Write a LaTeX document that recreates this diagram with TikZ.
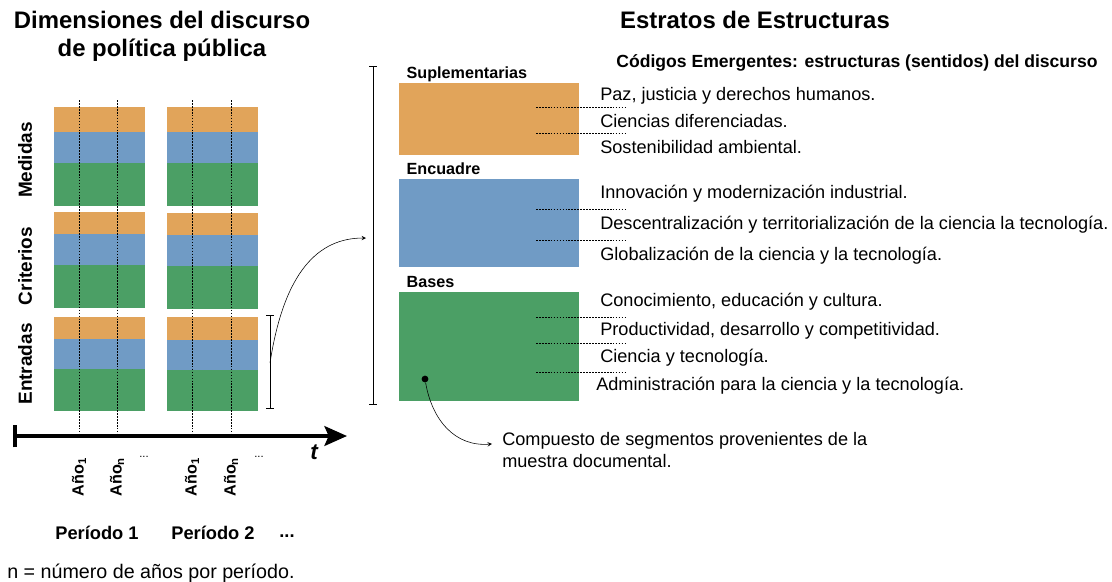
\documentclass[tikz,border=0pt]{standalone}
\usepackage{fontspec}
\setmainfont{Liberation Sans}
\usepackage{tikz}
\usetikzlibrary{arrows,arrows.meta,calc,positioning,fit}

\definecolor{supl}{RGB}{225,164,90}
\definecolor{encu}{RGB}{112,155,197}
\definecolor{base}{RGB}{75,159,101}

\begin{document}
\begin{tikzpicture}[x=0.025cm, y=-0.025cm, arrow/.style = {thin,-stealth}]
		\tikzset{layer/.style={inner sep=0pt, draw=none},
			title/.style={align=center, font=\bfseries\fontsize{17}{20}\selectfont},
			dim/.style={rotate=90, font=\bfseries\fontsize{13.5}{16}\selectfont},
			anio/.style={rotate=90, font=\bfseries\fontsize{11.5}{13}\selectfont},
			strat/.style={anchor=base west, font=\bfseries\fontsize{11.5}{13}\selectfont},
			item/.style={anchor=west, inner sep=0pt, font=\fontsize{12.9}{15}\selectfont},
			guide/.style={dash pattern=on 1.2pt off 0.9pt, line width=0.7pt},
			brk/.style={thin, {Bar[width=5pt]}-{Bar[width=5pt]}}}

		\useasboundingbox (0,0) rectangle (1112,581);

		% Titles
		\node[title] (dimtitle) at (162,36) {Dimensiones del discurso\\de política pública};
		\node[title] (esttitle) at (755,20) {Estratos de Estructuras};
		\node[font=\bfseries\fontsize{12.5}{15}\selectfont] (codigos) at (857,63) {Códigos Emergentes: estructuras (sentidos) del discurso};

		% Medidas
		\node[fit={(54,107) (145,132)}, layer, fill=supl] (m1s) {};
		\node[fit={(54,132) (145,163)}, layer, fill=encu] (m1e) {};
		\node[fit={(54,163) (145,206)}, layer, fill=base] (m1b) {};
		\node[fit={(167,107) (258,132)}, layer, fill=supl] (m2s) {};
		\node[fit={(167,132) (258,163)}, layer, fill=encu] (m2e) {};
		\node[fit={(167,163) (258,206)}, layer, fill=base] (m2b) {};

		% Criterios
		\node[fit={(54,212) (145,234)}, layer, fill=supl] (c1s) {};
		\node[fit={(54,234) (145,265)}, layer, fill=encu] (c1e) {};
		\node[fit={(54,265) (145,308)}, layer, fill=base] (c1b) {};
		\node[fit={(167,213) (258,235)}, layer, fill=supl] (c2s) {};
		\node[fit={(167,235) (258,266)}, layer, fill=encu] (c2e) {};
		\node[fit={(167,266) (258,309)}, layer, fill=base] (c2b) {};

		% Entradas
		\node[fit={(54,317) (145,339)}, layer, fill=supl] (e1s) {};
		\node[fit={(54,339) (145,369)}, layer, fill=encu] (e1e) {};
		\node[fit={(54,369) (145,411)}, layer, fill=base] (e1b) {};
		\node[fit={(167,317) (258,340)}, layer, fill=supl] (e2s) {};
		\node[fit={(167,340) (258,370)}, layer, fill=encu] (e2e) {};
		\node[fit={(167,370) (258,411)}, layer, fill=base] (e2b) {};

		% Dimension labels
		\node[dim] (medidas) at (25,160) {Medidas};
		\node[dim] (criterios) at (25,266) {Criterios};
		\node[dim] (entradas) at (25,364) {Entradas};

		% Time axis
		\coordinate (t0) at (13,436);
		\coordinate (t1) at (347,436);
		\draw[line width=2.8pt, {Bar[width=16pt,line width=2.8pt]}-{Stealth[length=16pt,width=14pt,inset=3pt]}] (t0) -- (t1);
		\node[font=\bfseries\itshape\fontsize{16}{18}\selectfont] (t) at (314,452) {t};

		% Years
		\draw[guide] (79,100) -- (79,436);
		\draw[guide] (117,100) -- (117,436);
		\draw[guide] (192,100) -- (192,436);
		\draw[guide] (231,100) -- (231,436);
		\node[anio] (a11) at (79,477) {Año\textsubscript{1}};
		\node[anio] (a1n) at (117,477) {Año\textsubscript{n}};
		\node[anio] (a21) at (192,477) {Año\textsubscript{1}};
		\node[anio] (a2n) at (231,477) {Año\textsubscript{n}};
		\node[font=\fontsize{8}{9}\selectfont] (dots1) at (144,457) {...};
		\node[font=\fontsize{8}{9}\selectfont] (dots2) at (259,457) {...};

		% Periods
		\node[font=\bfseries\fontsize{13}{15}\selectfont] (p1) at (97,533) {Período 1};
		\node[font=\bfseries\fontsize{13}{15}\selectfont] (p2) at (213,533) {Período 2};
		\node[font=\bfseries\fontsize{13}{15}\selectfont] (pdots) at (287,536) {...};
		\node[anchor=west, inner sep=0pt, font=\fontsize{14}{16}\selectfont] (nota) at (7,573) {n = número de años por período.};

		% Brackets
		\draw[brk] (270,315) -- (270,409);
		\draw[brk] (373,66) -- (373,405);
		\coordinate (entmid) at (270,363);
		\coordinate (estrin) at (366,238);
		\draw[arrow] (entmid) .. controls (284,272) and (318,238) .. (estrin);

		% Strata
		\node[fit={(399,83) (579,155)}, layer, fill=supl] (supbox) {};
		\node[fit={(399,179) (579,267)}, layer, fill=encu] (encbox) {};
		\node[fit={(399,292) (579,401)}, layer, fill=base] (basbox) {};
		\node[strat] (suplab) at ($(supbox.north west)+(3,-4)$) {Suplementarias};
		\node[strat] (enclab) at ($(encbox.north west)+(3,-4)$) {Encuadre};
		\node[strat] (baslab) at ($(basbox.north west)+(3,-4)$) {Bases};

		% Codes
		\draw[guide] (536,107) -- (626,107);
		\draw[guide] (536,133) -- (626,133);
		\draw[guide] (536,209) -- (626,209);
		\draw[guide] (536,240) -- (626,240);
		\draw[guide] (536,317) -- (626,317);
		\draw[guide] (536,343) -- (626,343);
		\draw[guide] (536,372) -- (626,372);

		\node[item] (s1) at (600,96) {Paz, justicia y derechos humanos.};
		\node[item] (s2) at (600,121) {Ciencias diferenciadas.};
		\node[item] (s3) at (600,147) {Sostenibilidad ambiental.};
		\node[item] (e1) at (600,194) {Innovación y modernización industrial.};
		\node[item] (e2) at (600,225) {Descentralización y territorialización de la ciencia la tecnología.};
		\node[item] (e3) at (600,256) {Globalización de la ciencia y la tecnología.};
		\node[item] (b1) at (600,302) {Conocimiento, educación y cultura.};
		\node[item] (b2) at (600,331) {Productividad, desarrollo y competitividad.};
		\node[item] (b3) at (600,358) {Ciencia y tecnología.};
		\node[item] (b4) at (596,386) {Administración para la ciencia y la tecnología.};

		% Segments
		\node[circle, fill=black, inner sep=1.7pt] (seg) at (425,379) {};
		\node[anchor=north west, align=left, inner sep=0pt, font=\fontsize{12.9}{15.6}\selectfont] (comp) at (502,432) {Compuesto de segmentos provenientes de la\\muestra documental.};
		\coordinate (compin) at ($(comp.west)+(-10,-6)$);
		\draw[arrow] (seg) .. controls (432,420) and (455,447) .. (compin);

	\end{tikzpicture}
\end{document}
